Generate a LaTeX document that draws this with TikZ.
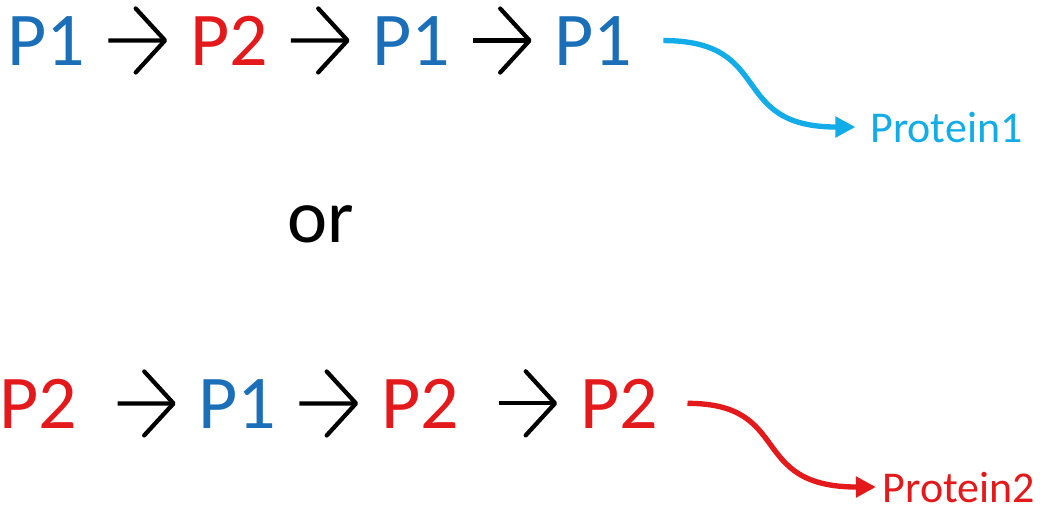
\documentclass[tikz,border=0pt]{standalone}
\usepackage{fontspec}
\setmainfont{Carlito}
\usetikzlibrary{arrows.meta}
\definecolor{pblue}{HTML}{1A6FB8}
\definecolor{pred}{HTML}{E3191B}
\definecolor{pcyan}{HTML}{12ADE8}
\begin{document}
\begin{tikzpicture}[x=0.75pt,y=-0.75pt,
  big/.style={inner sep=0pt,anchor=base,font=\fontsize{57}{70}\selectfont},
  small/.style={inner sep=0pt,anchor=base,font=\fontsize{33}{40}\selectfont},
  seq/.style={line width=3.2pt,-{Straight Barb[round,length=22pt,width=48pt]},shorten <=17pt,shorten >=17pt},
  wide/.style={shorten <=30pt},
  toprot/.style={line width=4pt,-{Triangle[length=15pt,width=15pt]},out=0,in=180,looseness=1.45}]
  \useasboundingbox (0,0) rectangle (1040,511);
  \node[big,pblue] (a1) at (46.5,65) {P1};
  \node[big,pred]  (a2) at (229,65) {P2};
  \node[big,pblue] (a3) at (411.5,65) {P1};
  \node[big,pblue] (a4) at (593.5,65) {P1};
  \node[small,pcyan] (prot1) at (946.5,142) {Protein1};
  \draw[seq] (a1) -- (a2);
  \draw[seq] (a2) -- (a3);
  \draw[seq] (a3) -- (a4);
  \draw[toprot,pcyan,shorten <=23pt,shorten >=11pt] (a4.east) to (prot1.west);
  \node[big] (or) at (321,242) {or};
  \node[big,pred]  (b1) at (38.5,428) {P2};
  \node[big,pblue] (b2) at (237.5,428) {P1};
  \node[big,pred]  (b3) at (420,428) {P2};
  \node[big,pred]  (b4) at (619,428) {P2};
  \node[small,pred] (prot2) at (959,502) {Protein2};
  \draw[seq,wide] (b1) -- (b2);
  \draw[seq] (b2) -- (b3);
  \draw[seq,wide] (b3) -- (b4);
  \draw[toprot,pred,shorten <=22pt,shorten >=5pt] (b4.east) to (prot2.west);
\end{tikzpicture}
\end{document}
